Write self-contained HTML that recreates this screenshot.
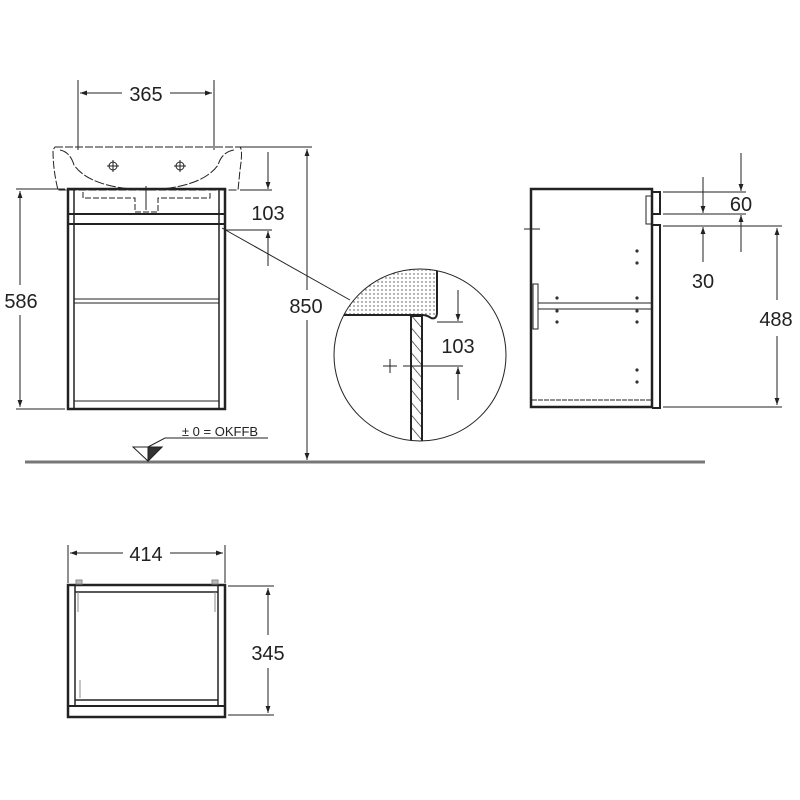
<!DOCTYPE html>
<html><head><style>html,body{margin:0;padding:0;background:#fff}svg{display:block}text{font-family:"Liberation Sans",sans-serif;fill:#222}</style></head><body>
<svg width="800" height="800" viewBox="0 0 800 800" xmlns="http://www.w3.org/2000/svg">
<defs>
<marker id="a" viewBox="0 0 10 10" refX="10" refY="5" markerWidth="11" markerHeight="7" orient="auto-start-reverse" markerUnits="userSpaceOnUse"><path d="M0,1.5 L10,5 L0,8.5 z" fill="#222"/></marker>
<pattern id="dots" width="4" height="4" patternUnits="userSpaceOnUse"><circle cx="2" cy="2" r="0.7" fill="#444"/></pattern>
<pattern id="hatch" width="8" height="8" patternUnits="userSpaceOnUse" patternTransform="rotate(-40)"><line x1="0" y1="0" x2="0" y2="8" stroke="#222" stroke-width="1.3"/></pattern>
<clipPath id="cc"><circle cx="420" cy="355" r="86"/></clipPath>
</defs>
<g stroke="#222" fill="none" stroke-width="1">
<line x1="25" y1="462" x2="705" y2="462" stroke="#777" stroke-width="3"/>
<path d="M55,147 L240,147 Q243,150 240,170 L238,190 L58,190 Q53,170 53,150 Z" stroke-dasharray="8,2"/>
<path d="M60,150 Q70,152 74,165 Q90,188 146,190 Q202,188 218,165 Q222,152 234,150" stroke-dasharray="10,2"/>
<path d="M83,192 L83,198 L135,198 L135,212 L158,212 L158,198 L210,198 L210,192" stroke-dasharray="6,2"/>
<circle cx="113" cy="166" r="4"/><line x1="107" y1="166" x2="119" y2="166"/><line x1="113" y1="160" x2="113" y2="172"/>
<circle cx="180" cy="166" r="4"/><line x1="174" y1="166" x2="186" y2="166"/><line x1="180" y1="160" x2="180" y2="172"/>
<line x1="146" y1="186" x2="146" y2="210"/>
<rect x="68" y="189" width="157" height="220" stroke-width="2.5"/>
<line x1="74" y1="190" x2="74" y2="408" stroke-width="1.5"/>
<line x1="219" y1="190" x2="219" y2="408" stroke-width="1.5"/>
<line x1="68" y1="214" x2="225" y2="214" stroke-width="2"/>
<line x1="68" y1="224" x2="225" y2="224" stroke-width="2"/>
<line x1="74" y1="299" x2="219" y2="299"/><line x1="74" y1="303" x2="219" y2="303"/>
<line x1="74" y1="401" x2="219" y2="401"/>
<line x1="78" y1="80" x2="78" y2="150"/><line x1="214" y1="80" x2="214" y2="150"/>
<line x1="80" y1="93" x2="122" y2="93" marker-start="url(#a)"/><line x1="170" y1="93" x2="212" y2="93" marker-end="url(#a)"/>
<line x1="240" y1="147" x2="312" y2="147"/>
<line x1="307" y1="149" x2="307" y2="290" marker-start="url(#a)"/><line x1="307" y1="320" x2="307" y2="460" marker-end="url(#a)"/>
<line x1="16" y1="189" x2="65" y2="189"/><line x1="16" y1="409" x2="65" y2="409"/>
<line x1="20" y1="191" x2="20" y2="285" marker-start="url(#a)"/><line x1="20" y1="315" x2="20" y2="407" marker-end="url(#a)"/>
<line x1="240" y1="190" x2="272" y2="190"/><line x1="225" y1="230" x2="272" y2="230"/>
<line x1="268" y1="152" x2="268" y2="189" marker-end="url(#a)"/><line x1="268" y1="266" x2="268" y2="231" marker-end="url(#a)"/>
<line x1="222" y1="228" x2="350" y2="300"/>
<path d="M133,447 L162,447 L148,461 Z"/><path d="M148,447 L162,447 L148,461 Z" fill="#333"/>
<polyline points="148,447 165,438 268,438"/>
<g clip-path="url(#cc)">
<path d="M320,270 L437,270 L437,312 Q437,320 431,318 Q427,315 422,315 L320,315 Z" fill="url(#dots)" stroke="none"/>
<path d="M330,315 L422,315 Q427,315 431,318 Q437,320 437,312 L437,270" stroke-width="2"/>
<rect x="411" y="316" width="11" height="130" fill="url(#hatch)" stroke-width="2"/>
</g>
<circle cx="420" cy="355" r="86"/>
<line x1="437" y1="322" x2="463" y2="322"/><line x1="403" y1="366" x2="463" y2="366"/>
<line x1="458" y1="290" x2="458" y2="321" marker-end="url(#a)"/><line x1="458" y1="400" x2="458" y2="367" marker-end="url(#a)"/>
<line x1="383" y1="366" x2="397" y2="366"/><line x1="390" y1="359" x2="390" y2="373"/>
<rect x="531" y="189" width="121" height="218" stroke-width="2.5"/>
<rect x="652" y="192" width="8" height="22" stroke-width="2"/>
<path d="M652,225 L660,225 L660,408 L652,408" stroke-width="2"/>
<rect x="646" y="196" width="6" height="28"/>
<line x1="524" y1="229" x2="540" y2="229"/>
<rect x="533" y="284" width="5" height="45"/>
<line x1="538" y1="303" x2="651" y2="303"/><line x1="538" y1="309" x2="651" y2="309"/>
<line x1="532" y1="400" x2="651" y2="400" stroke-dasharray="5,1"/>
<line x1="663" y1="192" x2="746" y2="192"/><line x1="663" y1="214" x2="746" y2="214"/><line x1="663" y1="226" x2="782" y2="226"/>
<line x1="703" y1="177" x2="703" y2="213" marker-end="url(#a)"/><line x1="703" y1="262" x2="703" y2="227" marker-end="url(#a)"/>
<line x1="741" y1="153" x2="741" y2="191" marker-end="url(#a)"/><line x1="741" y1="252" x2="741" y2="215" marker-end="url(#a)"/>
<line x1="663" y1="407" x2="782" y2="407"/>
<line x1="777" y1="228" x2="777" y2="300" marker-start="url(#a)"/><line x1="777" y1="336" x2="777" y2="405" marker-end="url(#a)"/>
<rect x="68" y="585" width="157" height="132" stroke-width="2.5"/>
<line x1="75" y1="586" x2="75" y2="706" stroke-width="1.5"/><line x1="218" y1="586" x2="218" y2="706" stroke-width="1.5"/>
<line x1="75" y1="592" x2="218" y2="592" stroke-width="1.5"/>
<line x1="75" y1="700" x2="218" y2="700" stroke-width="1.5"/><line x1="68" y1="706" x2="225" y2="706" stroke-width="2"/>
<rect x="76" y="580" width="6" height="4" fill="#bbb" stroke="#888"/><rect x="212" y="580" width="6" height="4" fill="#bbb" stroke="#888"/>
<line x1="78" y1="592" x2="78" y2="612" stroke="#888"/><line x1="215" y1="592" x2="215" y2="612" stroke="#888"/>
<line x1="80" y1="680" x2="80" y2="698" stroke="#888"/>
<line x1="68" y1="545" x2="68" y2="583"/><line x1="225" y1="545" x2="225" y2="583"/>
<line x1="70" y1="553" x2="123" y2="553" marker-start="url(#a)"/><line x1="170" y1="553" x2="223" y2="553" marker-end="url(#a)"/>
<line x1="228" y1="586" x2="274" y2="586"/><line x1="228" y1="715" x2="274" y2="715"/>
<line x1="268" y1="588" x2="268" y2="635" marker-start="url(#a)"/><line x1="268" y1="668" x2="268" y2="713" marker-end="url(#a)"/>
</g>
<g fill="#333">
<circle cx="637" cy="251" r="1.6"/><circle cx="637" cy="263" r="1.6"/>
<circle cx="557" cy="298" r="1.6"/><circle cx="557" cy="311" r="1.6"/><circle cx="557" cy="322" r="1.6"/>
<circle cx="637" cy="298" r="1.6"/><circle cx="637" cy="311" r="1.6"/><circle cx="637" cy="322" r="1.6"/>
<circle cx="637" cy="370" r="1.6"/><circle cx="637" cy="382" r="1.6"/>
</g>
<g font-size="20" text-anchor="middle" stroke="none">
<text x="146" y="101">365</text>
<rect x="286" y="292" width="42" height="26" fill="#fff"/>
<text x="306" y="313">850</text>
<text x="21" y="308">586</text>
<text x="268" y="220">103</text>
<text x="458" y="353">103</text>
<text x="741" y="211">60</text>
<text x="703" y="288">30</text>
<text x="776" y="326">488</text>
<text x="146" y="561">414</text>
<text x="268" y="660">345</text>
<text x="220" y="436" font-size="13">± 0 = OKFFB</text>
</g>
</svg>
</body></html>
